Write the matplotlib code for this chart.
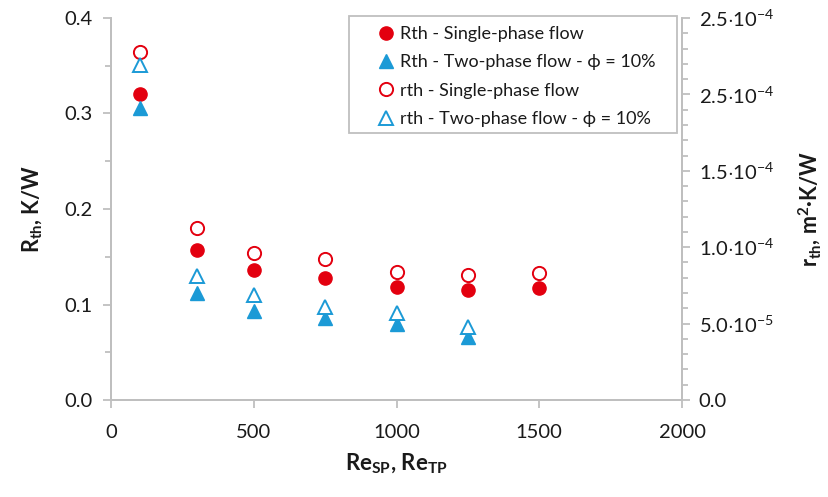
import matplotlib
matplotlib.use("Agg")
import matplotlib.pyplot as plt
from matplotlib.ticker import MultipleLocator, FixedLocator
from matplotlib.lines import Line2D
from matplotlib.patches import Rectangle

# --- dados ---
re_sp = [100, 300, 500, 750, 1000, 1250, 1500]
re_tp = [100, 300, 500, 750, 1000, 1250]
Rth_sp = [0.320, 0.157, 0.136, 0.128, 0.118, 0.115, 0.117]   # K/W
Rth_tp = [0.306, 0.112, 0.093, 0.086, 0.080, 0.066]
rth_sp = [2.28e-4, 1.125e-4, 9.6e-5, 9.2e-5, 8.4e-5, 8.2e-5, 8.3e-5]  # m2.K/W
rth_tp = [2.19e-4, 8.1e-5, 6.9e-5, 6.1e-5, 5.7e-5, 4.75e-5]

yticks_r = [0, 5e-5, 1e-4, 1.5e-4, 2e-4, 2.5e-4]
yticklabels_r = ["0.0", r"$5.0{\cdot}10^{-5}$", r"$1.0{\cdot}10^{-4}$", r"$1.5{\cdot}10^{-4}$",
                 r"$2.5{\cdot}10^{-4}$", r"$2.5{\cdot}10^{-4}$"]

# --- estilo ---
plt.rcParams["font.family"] = ["Lato", "DejaVu Sans"]
plt.rcParams["mathtext.fontset"] = "custom"
plt.rcParams["mathtext.rm"] = "Lato"
plt.rcParams["mathtext.bf"] = "Lato:bold"
plt.rcParams["mathtext.it"] = "Lato:italic"

RED = "#e3000f"
BLUE = "#1b9ad6"
GREY = "#bfbfbf"
TXT = "#1a1a1a"

fig = plt.figure(figsize=(8.29, 4.97), dpi=100)
ax = fig.add_axes([111 / 829, 97 / 497, 571 / 829, 382 / 497])
ax2 = ax.twinx()

ms = 9.5
ax.plot(re_sp, Rth_sp, "o", color=RED, ms=ms, mec=RED, zorder=3)
ax.plot(re_tp, Rth_tp, "^", color=BLUE, ms=ms, mec=BLUE, zorder=3)
ax2.plot(re_sp, rth_sp, "o", mfc="white", mec=RED, mew=1.4, ms=ms, zorder=3)
ax2.plot(re_tp, rth_tp, "^", mfc="white", mec=BLUE, mew=1.4, ms=ms, zorder=3)

ax.set_xlim(0, 2000)
ax.set_ylim(0, 0.4)
ax2.set_ylim(0, 2.5e-4)
ax.xaxis.set_major_locator(MultipleLocator(500))
ax.yaxis.set_major_locator(MultipleLocator(0.1))
ax.yaxis.set_minor_locator(MultipleLocator(0.05))
ax.yaxis.set_major_formatter(plt.FuncFormatter(lambda v, p: f"{v:.1f}"))
ax2.yaxis.set_major_locator(FixedLocator(yticks_r))
ax2.set_yticklabels(yticklabels_r)
ax2.yaxis.set_minor_locator(MultipleLocator(1e-5))

for a in (ax, ax2):
    for s in a.spines.values():
        s.set_color(GREY)
        s.set_linewidth(1.3)
    a.spines["top"].set_visible(False)
ax.tick_params(axis="both", which="major", colors=GREY, labelcolor=TXT,
               labelsize=14.5, length=6, width=1.3)
ax.tick_params(axis="y", which="minor", colors=GREY, length=4, width=1.3)
ax.tick_params(axis="y", pad=7)
ax.tick_params(axis="x", pad=11)
ax2.tick_params(axis="y", which="major", colors=GREY, labelcolor=TXT,
                labelsize=14.5, length=6, width=1.3, pad=6)
ax2.tick_params(axis="y", which="minor", colors=GREY, length=4, width=1.3)

ax.set_xlabel(r"Re$_\mathbf{SP}$, Re$_\mathbf{TP}$", fontsize=16, fontweight="bold",
              labelpad=8, color=TXT)
ax.set_ylabel(r"$\mathbf{R_{th}}$, K/W", fontsize=15.5, fontweight="bold",
              labelpad=14, color=TXT)
ax2.set_ylabel(r"$\mathbf{r_{th}}$, m$^\mathbf{2}$·K/W", fontsize=15.5, fontweight="bold",
               labelpad=16, color=TXT, rotation=90)

# legenda com moldura manual
fig.patches.append(Rectangle((349 / 829, 1 - 133 / 497), (677 - 349) / 829, (133 - 16) / 497,
                             transform=fig.transFigure, fill=False, ec=GREY, lw=1.3))
handles = [
    Line2D([], [], ls="none", marker="o", color=RED, ms=ms),
    Line2D([], [], ls="none", marker="^", color=BLUE, ms=ms),
    Line2D([], [], ls="none", marker="o", mfc="white", mec=RED, mew=1.4, ms=ms),
    Line2D([], [], ls="none", marker="^", mfc="white", mec=BLUE, mew=1.4, ms=ms),
]
labels = ["Rth - Single-phase flow",
          "Rth - Two-phase flow - ϕ = 10%",
          "rth - Single-phase flow",
          "rth - Two-phase flow - ϕ = 10%"]
fig.legend(handles, labels, loc="upper left", bbox_to_anchor=(377 / 829, 1 - 26 / 497),
           frameon=False, fontsize=13, handlelength=1.0, handletextpad=0.25,
           labelspacing=0.68, borderpad=0, borderaxespad=0, labelcolor=TXT)

fig.savefig("out.png", dpi=100)
